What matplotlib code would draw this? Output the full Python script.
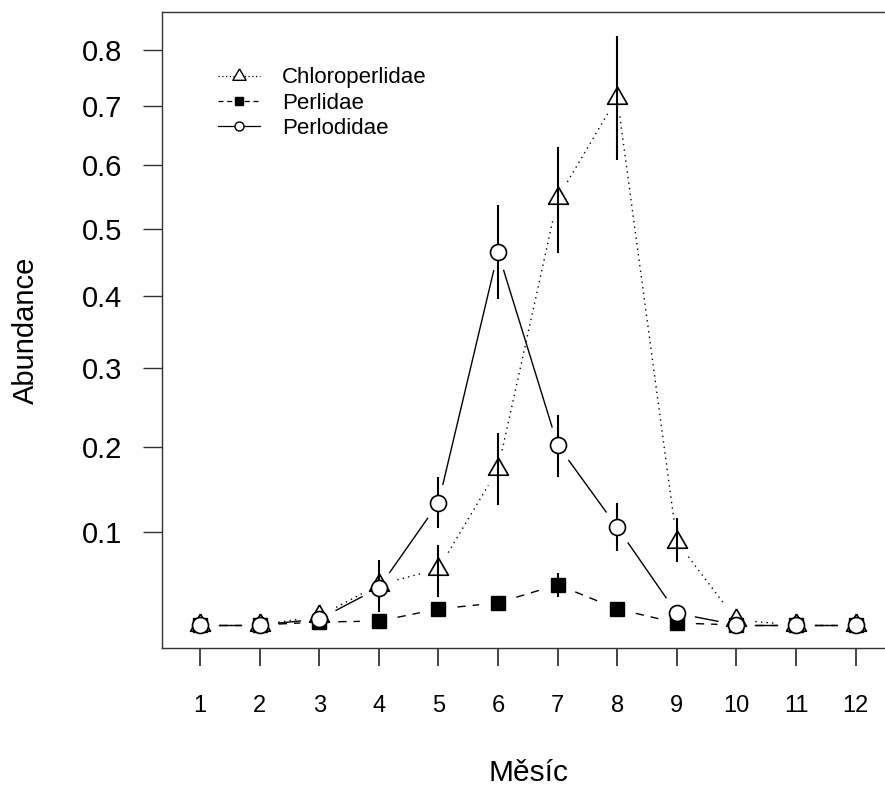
import numpy as np
import matplotlib
matplotlib.use("Agg")
import matplotlib.pyplot as plt
from matplotlib.lines import Line2D

plt.rcParams['font.family'] = ['Liberation Sans', 'DejaVu Sans']

# mesicni prumery abundance (+ rozptyl) pro tri celedi posvatek
mesic = np.arange(1, 13)
month_labels = [str(m) for m in mesic]

chloro = [0, 0, 0.009, 0.042, 0.059, 0.173, 0.547, 0.715, 0.089, 0.005, 0, 0]
chloro_lo = [0, 0, 0.009, 0.042, 0.029, 0.130, 0.463, 0.609, 0.066, 0.005, 0, 0]
chloro_hi = [0, 0, 0.009, 0.042, 0.085, 0.217, 0.630, 0.826, 0.116, 0.005, 0, 0]

perlidae = [0, 0, 0.003, 0.004, 0.0165, 0.023, 0.042, 0.0165, 0.002, 0, 0, 0]
perlidae_lo = [0, 0, 0.003, 0.004, 0.0125, 0.018, 0.029, 0.0165, 0.002, 0, 0, 0]
perlidae_hi = [0, 0, 0.003, 0.004, 0.0205, 0.028, 0.055, 0.0165, 0.002, 0, 0, 0]

perlod = [0, 0, 0.006, 0.0386, 0.133, 0.464, 0.202, 0.105, 0.012, 0, 0, 0]
perlod_lo = [0, 0, 0.006, 0.0134, 0.104, 0.396, 0.163, 0.079, 0.012, 0, 0, 0]
perlod_hi = [0, 0, 0.006, 0.0687, 0.163, 0.536, 0.240, 0.133, 0.012, 0, 0, 0]

yticks = [0.1, 0.2, 0.3, 0.4, 0.5, 0.6, 0.7, 0.8]

fig = plt.figure(figsize=(8.85, 7.87), dpi=100)
ax = fig.add_axes([0.1831, 0.1766, 0.8282, 0.8081])
ax.set_yscale('function', functions=(np.log1p, np.expm1))
ax.set_xlim(0.362, 12.66)
ax.set_ylim(-0.0233, 0.8717)

# rovnostranny trojuhelnik (teziste ve stredu)
tri = [(0, 0.577), (-0.5, -0.289), (0.5, -0.289), (0, 0.577)]


def gapped(x, y, gap=19, **kw):
    # spojnice s mezerou kolem bodu (jako type="b" v R)
    pts = ax.transData.transform(np.column_stack([x, y]))
    inv = ax.transData.inverted()
    for p0, p1 in zip(pts[:-1], pts[1:]):
        d = p1 - p0
        L = np.hypot(*d)
        if L <= 2 * gap:
            continue
        u = d / L
        seg = inv.transform(np.vstack([p0 + u * gap, p1 - u * gap]))
        ax.plot(seg[:, 0], seg[:, 1], color='black', lw=1.0, **kw)


gapped(mesic, chloro, linestyle=(0, (1, 3)))
gapped(mesic, perlidae, linestyle=(0, (6, 5)))
gapped(mesic, perlod, linestyle='-')

ax.vlines(mesic, chloro_lo, chloro_hi, color='black', lw=1.5, zorder=3)
ax.plot(mesic, chloro, linestyle='none', marker=tri, ms=16.5, mfc='none',
        mec='black', mew=1.2, zorder=3)

ax.vlines(mesic, perlidae_lo, perlidae_hi, color='black', lw=1.5, zorder=4)
ax.plot(mesic, perlidae, linestyle='none', marker='s', ms=10, mfc='black',
        mec='black', zorder=4)

ax.vlines(mesic, perlod_lo, perlod_hi, color='black', lw=1.5, zorder=5)
ax.plot(mesic, perlod, linestyle='none', marker='o', ms=11.5, mfc='white',
        mec='black', mew=1.2, zorder=6)

ax.set_xticks(mesic)
ax.set_xticklabels(month_labels)
ax.set_yticks(yticks)
ax.set_yticklabels([f'{v:.1f}' for v in yticks])
ax.minorticks_off()
ax.tick_params(axis='x', length=13, width=1.2, pad=21, labelsize=17,
               color='#222222')
ax.tick_params(axis='y', length=14, width=1.0, pad=15, labelsize=21,
               color='#333333')

for s in ['left', 'top', 'bottom']:
    ax.spines[s].set_linewidth(1.0)
    ax.spines[s].set_color('#333333')
ax.spines['right'].set_visible(False)

ax.set_xlabel('Měsíc', fontsize=21.5, va='center')
ax.xaxis.set_label_coords(0.5, -0.1965)
ax.set_ylabel('Abundance', fontsize=21, va='center')
ax.yaxis.set_label_coords(-0.1855, 0.5)

handles = [
    Line2D([], [], color='black', lw=0.9, linestyle=(0, (1, 2)), marker=tri,
           ms=11, mfc='white', mec='black', mew=1.0),
    Line2D([], [], color='black', lw=0.9, linestyle=(0, (4, 3)), marker='s',
           ms=6, mfc='black', mec='black'),
    Line2D([], [], color='black', lw=0.9, linestyle='-', marker='o',
           ms=6.5, mfc='white', mec='black', mew=1.0),
]
ax.legend(handles, ['Chloroperlidae', 'Perlidae', 'Perlodidae'],
          loc='upper left', bbox_to_anchor=(0.076, 0.913), frameon=False,
          fontsize=16, handlelength=1.9, handletextpad=1.0,
          labelspacing=0.2, borderpad=0, borderaxespad=0, numpoints=1)

fig.savefig('out.png', dpi=100)
